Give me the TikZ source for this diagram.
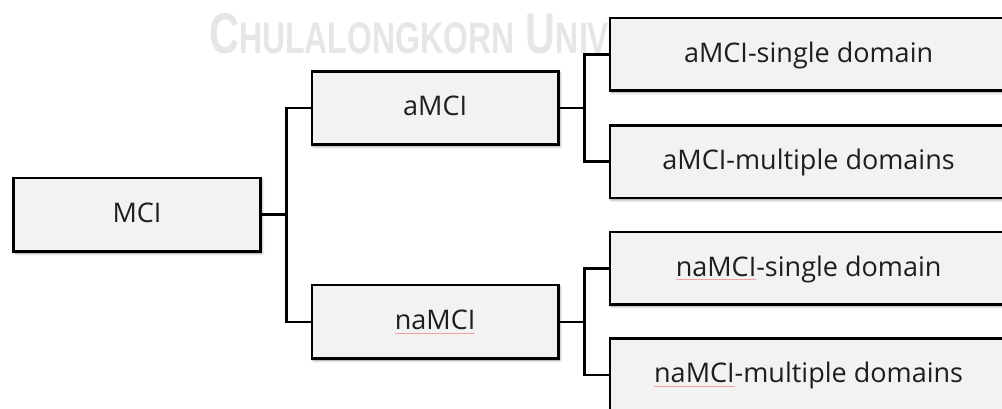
\documentclass[tikz,border=0pt]{standalone}
\usepackage{fontspec}
\usepackage{graphicx}
\setmainfont{Open Sans}
\newfontfamily\wmfont{Liberation Sans}
\usetikzlibrary{shadows.blur}
\definecolor{boxfill}{HTML}{F2F2F2}
\definecolor{wmgray}{HTML}{E6E6E6}
\definecolor{txtcol}{HTML}{1E1E1E}
\definecolor{sperrcol}{HTML}{F0A0A0}
\newsavebox\sperrbox
\newcommand\sperr[1]{\sbox\sperrbox{#1}\rlap{{\color{sperrcol}\rule[-3.5pt]{\wd\sperrbox}{0.6pt}}}\usebox\sperrbox}
\begin{document}
\begin{tikzpicture}[x=1pt,y=-1pt,
  box/.style={draw=black, line width=2.6pt, fill=boxfill, text=txtcol,
    font=\fontsize{27}{30}\selectfont, text height=20pt, text depth=4.4pt,
    inner sep=0pt, minimum height=73.4pt,
    blur shadow={shadow xshift=1.5pt, shadow yshift=-1.8pt, shadow blur radius=2.5pt, shadow opacity=45}},
  leftbox/.style={box, minimum width=246.6pt},
  rightbox/.style={box, minimum width=397.6pt, minimum height=72.6pt},
  conn/.style={draw=black, line width=2.6pt}]
\useasboundingbox (0,0) rectangle (1002,408);
\clip (0,0) rectangle (1002,408);
% watermark
\node[anchor=base west, inner sep=0pt, text=wmgray] (wm) at (209,53.3)
  {\resizebox{400pt}{40pt}{\wmfont\bfseries C\fontsize{7.7}{8}\selectfont HULALONGKORN\fontsize{10}{12}\selectfont\ U\fontsize{7.7}{8}\selectfont NIV}};
% boxes
\node[leftbox] (mci) at (137,214.7) {MCI};
\node[leftbox] (amci) at (435.1,108) {aMCI};
\node[leftbox] (namci) at (435.1,321.8) {\sperr{naMCI}};
\node[rightbox] (as) at (808.6,54.3) {aMCI-single domain};
\node[rightbox] (am) at (808.6,161.7) {aMCI-multiple domains};
\node[rightbox] (ns) at (808.6,268.3) {\sperr{naMCI}-single domain};
\node[rightbox] (nm) at (808.6,374.8) {\sperr{naMCI}-multiple domains};
% junctions
\coordinate (j1) at (286.5,214.7);
\coordinate (j2) at (584.3,108);
\coordinate (j3) at (584.3,321.8);
% connectors
\draw[conn] (mci.east) -- (j1);
\draw[conn] (amci.west) -| (j1) |- (namci.west);
\draw[conn] (amci.east) -- (j2);
\draw[conn] (as.west) -| (j2) |- (am.west);
\draw[conn] (namci.east) -- (j3);
\draw[conn] (ns.west) -| (j3) |- (nm.west);
\end{tikzpicture}
\end{document}
